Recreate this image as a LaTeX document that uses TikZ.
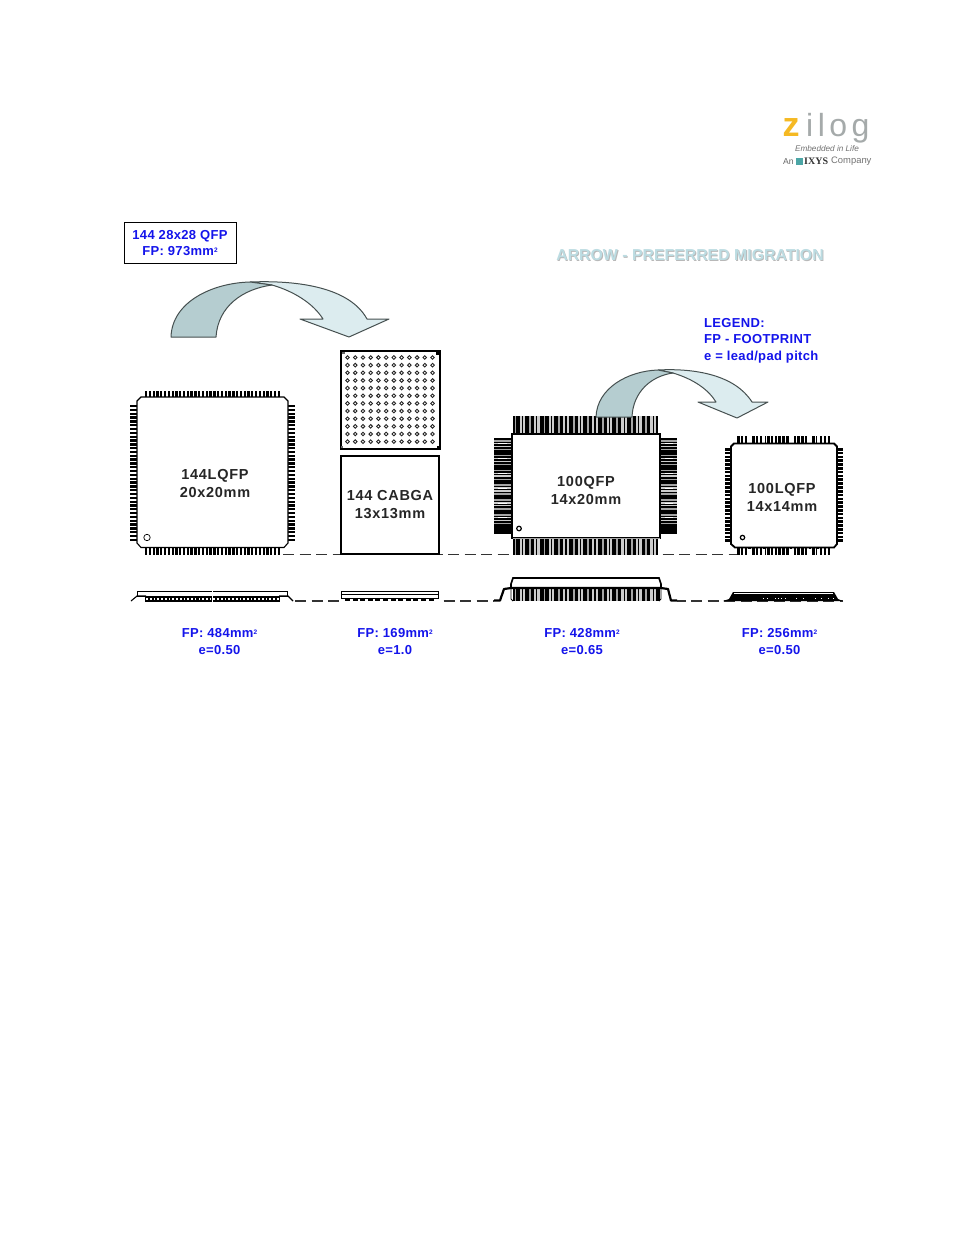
\documentclass[tikz,border=0pt]{standalone}
\usepackage{fontspec}
\setmainfont{Liberation Sans}
\newfontfamily\serifx{Liberation Serif}
\newfontfamily\blufont[LetterSpace=2.6]{Liberation Sans}
\newfontfamily\chipfont[LetterSpace=5]{Liberation Sans}
\newfontfamily\logofont[LetterSpace=14]{Liberation Sans}
\definecolor{lblue}{RGB}{20,20,235}
\definecolor{arrowdark}{RGB}{181,205,208}
\definecolor{arrowlight}{RGB}{220,236,239}
\definecolor{arrowline}{RGB}{70,80,80}
\definecolor{headcol}{RGB}{188,220,226}
\definecolor{logogray}{RGB}{165,170,170}
\definecolor{logoz}{RGB}{245,185,35}
\definecolor{leadgray}{RGB}{165,165,165}
\definecolor{leadlight}{RGB}{205,205,205}
\newcommand{\supp}[1]{\raisebox{3.5pt}{\fontsize{6.5}{7}\selectfont #1}}
\tikzset{
  bluetxt/.style={text=lblue,font=\blufont\bfseries\fontsize{13}{16.5}\selectfont,align=center,inner sep=0pt},
  chiptxt/.style={text=black!85,font=\chipfont\bfseries\fontsize{14.5}{18}\selectfont,align=center,inner sep=0pt},
  bodyline/.style={draw=black,fill=white,line width=1.1pt},
  migarrow/.style={draw=arrowline,line width=1pt,line join=round},
  guide/.style={draw=black!80,line width=1.1pt,dash pattern=on 11pt off 5.5pt},
}
\newcommand{\leadsH}[6]{% x0, x1, y0, y1, count, width
  \foreach \i in {1,...,#5}{
    \pgfmathsetmacro{\xx}{#1+(#2-#1-#6)*(\i-1)/(#5-1)}
    \fill[black] (\xx,#3) rectangle (\xx+#6,#4);
  }}
\newcommand{\leadsV}[6]{% x0, x1, y0, y1, count, width
  \foreach \i in {1,...,#5}{
    \pgfmathsetmacro{\yy}{#3+(#4-#3-#6)*(\i-1)/(#5-1)}
    \fill[black] (#1,\yy) rectangle (#2,\yy+#6);
  }}
\newcommand{\qfpH}[4]{% x0,x1,y0,y1 : banded lead block, horizontal run
  \fill[black] (#1,#3) rectangle (#2,#4);
  \foreach \i in {0,...,9}{
    \pgfmathsetmacro{\xx}{#1+1.5+\i*14.55}
    \fill[leadgray] (\xx,#3) rectangle (\xx+1.8,#4);
    \fill[leadlight] (\xx+5,#3) rectangle (\xx+7.2,#4);
    \fill[leadlight] (\xx+8.4,#3) rectangle (\xx+10.6,#4);
  }}
\newcommand{\qfpV}[4]{% x0,x1,y0,y1 : banded lead block, vertical run
  \fill[black] (#1,#3) rectangle (#2,#4);
  \foreach \i in {0,...,5}{
    \pgfmathsetmacro{\yy}{#3+2+\i*14.8}
    \fill[leadgray] (#1,\yy) rectangle (#2,\yy+1.6);
    \fill[leadlight] (#1,\yy+3) rectangle (#2,\yy+4.4);
    \fill[white] (#1+4,\yy+3.4) rectangle (#2-4,\yy+4.4);
    \fill[leadlight] (#1,\yy+5.8) rectangle (#2,\yy+7.2);
    \fill[leadgray] (#1,\yy+9) rectangle (#2,\yy+10.4);
  }}
\begin{document}
\begin{tikzpicture}[x=1pt,y=-1pt]
\useasboundingbox[fill=white] (0,0) rectangle (954,1235);

% logo
\node[inner sep=0pt,anchor=base,text=logoz,font=\bfseries\fontsize{34}{34}\selectfont] (logoZ) at (791,136) {z};
\node[inner sep=0pt,anchor=base west,text=logogray,font=\logofont\fontsize{32}{32}\selectfont] (logoR) at (806,136) {ilog};
\node[inner sep=0pt,text=black!55,font=\itshape\fontsize{8.2}{9}\selectfont] (logoT) at (827,148.5) {Embedded in Life};
\node[inner sep=0pt,text=black!60,font=\fontsize{8.6}{9}\selectfont,anchor=west] (logoAn) at (783,161.5) {An};
\node[inner sep=0pt,fill=teal!70,minimum size=7pt] (logoB) at (799.5,161) {};
\node[inner sep=0pt,text=black!80,font=\serifx\bfseries\fontsize{10}{10}\selectfont,anchor=west] (logoI) at (804,161.5) {IXYS};
\node[inner sep=0pt,text=black!55,font=\fontsize{9.4}{9}\selectfont,anchor=west] (logoC) at (831,161.5) {Company};

% top label box
\node[draw=black,line width=0.8pt,fill=white,minimum width=112pt,minimum height=41pt,inner sep=0pt] (topbox) at (180,242.8) {};
\node[bluetxt] (toptxt) at (180,243) {144 28x28 QFP\\FP: 973mm\supp{2}};

% heading and legend
\node[inner sep=0pt,text=black!28,font=\bfseries\fontsize{15.85}{18}\selectfont] (headS) at (690.9,256.3) {ARROW - PREFERRED MIGRATION};
\node[inner sep=0pt,text=headcol,font=\bfseries\fontsize{15.85}{18}\selectfont] (head) at (690,255.4) {ARROW - PREFERRED MIGRATION};
\node[bluetxt,align=left,anchor=north west] (legend) at (704,318) {LEGEND:\\FP - FOOTPRINT\\e = lead/pad pitch};

% dashed guides (behind the packages)
\coordinate (guideA) at (283,554.5);
\coordinate (guideB) at (737,554.5);
\coordinate (sideA) at (130,601);
\coordinate (sideD) at (843,601);
\draw[guide] (guideA) -- (guideB);
\draw[guide] (sideA) -- (sideD);

% migration arrow 1
\path[migarrow,fill=arrowlight] (250,282) .. controls (300,280) and (350,288) .. (367,319) -- (389,319) -- (349,337) -- (300,319) -- (323,319) .. controls (313,303) and (293,291) .. (272,285) -- cycle;
\path[migarrow,fill=arrowdark] (171,337) .. controls (172,302) and (212,283) .. (250,282) -- (272,285) .. controls (243,289) and (218,306) .. (216,337) -- cycle;

% 144LQFP
\leadsH{145}{280}{391}{398}{36}{2.3}
\leadsH{145}{280}{547}{555}{36}{2.3}
\leadsV{130}{138}{405}{541}{36}{2.3}
\leadsV{287}{295}{405}{541}{36}{2.3}
\draw[bodyline] (141,397) -- (284,397) -- (288,401) -- (288,543) -- (284,547.5) -- (141,547.5) -- (137,543) -- (137,401) -- cycle;
\draw[black,line width=0.7pt] (147,537.5) circle (3.2);
\node[chiptxt] (lqfpA) at (215,483.5) {144LQFP\\20x20mm};

% BGA
\draw[draw=black,fill=white,line width=1.6pt] (341,351) rectangle (440,449);
\fill[black!60] (342,352) rectangle (345,354);
\fill[black] (436,351) rectangle (440,355);
\fill[black!60] (341,446) rectangle (343,448);
\fill[black] (437,446) rectangle (440,449);
\foreach \r in {0,...,11}{\foreach \c in {0,...,11}{
  \draw[black!85,line width=0.9pt] (347.5+\c*7.73,357.5+\r*7.65) circle (1.8);
}}
\node[draw=black,line width=1.6pt,fill=white,minimum width=98pt,minimum height=98pt,inner sep=0pt,chiptxt] (cabga) at (390,505) {144 CABGA\\13x13mm};

% 100QFP
\qfpH{513}{658}{416}{433}
\qfpH{513}{658}{538}{555}
\qfpV{494}{511}{438}{534}
\qfpV{661}{677}{438}{534}
\node[draw=black,line width=2pt,fill=white,minimum width=148pt,minimum height=104pt,inner sep=0pt] (qfp) at (586,485.5) {};
\node[chiptxt] (qfpt) at (586,490.5) {100QFP\\14x20mm};
\draw[leadgray,line width=1.2pt] (513,538.5) -- (660,538.5);
\draw[black,line width=1.2pt] (519,528.5) circle (2.3);

% migration arrow 2
\path[migarrow,fill=arrowlight] (658,370) .. controls (695,368) and (735,375) .. (752,402) -- (768,402) -- (737,418) -- (698,402) -- (716,402) .. controls (708,389) and (693,379) .. (673,373) -- cycle;
\path[migarrow,fill=arrowdark] (596,417) .. controls (597,388) and (628,371) .. (658,370) -- (673,373) .. controls (651,376) and (633,392) .. (632,417) -- cycle;

% 100LQFP
\leadsH{737}{830}{436}{444}{25}{2.5}
\leadsH{737}{830}{546}{555}{25}{2.5}
\foreach \xx in {748,762,789,809,817}{
  \fill[white] (\xx,436) rectangle (\xx+3,442.5);
  \fill[white] (\xx,548.5) rectangle (\xx+3,555);
}
\leadsV{725}{732}{448}{542}{25}{2.6}
\leadsV{836}{843}{448}{542}{25}{2.6}
\draw[draw=black,fill=white,line width=1.8pt] (734,443.5) -- (834,443.5) -- (837,446.5) -- (837,544) -- (834,547.5) -- (735,547.5) -- (731,544) -- (731,446.5) -- cycle;
\draw[black,line width=1.2pt] (742.5,537.5) circle (2.2);
\node[chiptxt] (lqfpB) at (782,497) {100LQFP\\14x14mm};

% side view 144LQFP
\fill[white] (130,590) rectangle (295,602);
\fill[black] (145,596) rectangle (280,601.5);
\foreach \i in {0,...,35}{\fill[white] (146.3+\i*3.73,598) rectangle (148+\i*3.73,600);}
\draw[black,line width=0.9pt,fill=white] (137,591) rectangle (287,596);
\fill[white] (212,590) rectangle (213,602);
\draw[black,line width=1.1pt] (131,601) -- (137,596) -- (146,596);
\draw[black,line width=1.1pt] (279,596) -- (288,596) -- (293,601);

% side view CABGA
\fill[white] (341,590) rectangle (440,602);
\draw[black,line width=1pt,fill=white] (341,591) rectangle (438,598);
\draw[black,line width=0.6pt] (341,594) -- (438,594);
\foreach \i in {0,...,11}{\fill[black] (345+\i*7.6,598) rectangle (350+\i*7.6,600.5);}

% side view 100QFP
\fill[white] (494,577) rectangle (677,602);
\draw[black,line width=0.8pt] (511,589) -- (511,599) -- (513,601);
\draw[black,line width=0.8pt] (661,589) -- (661,599) -- (659,601);
\qfpH{513}{660}{589}{601}
\draw[black,line width=1.6pt] (511,588) -- (511,584) -- (513,578) -- (659,578) -- (661,584) -- (661,588);
\draw[black,line width=2.2pt,line join=round] (494,600.5) -- (500,600.5) -- (504,589) -- (511,588) -- (661,588) -- (668,589) -- (671,600.5) -- (677,600.5);

% side view 100LQFP
\fill[black] (723,601) -- (729,599) -- (733,592) -- (834,592) -- (838,599) -- (843,601) -- cycle;
\fill[white] (734,593.3) rectangle (833,594.3);
\foreach \xx in {763,767,775,778,781,785,796,803,815,821,828,833}{\fill[white] (\xx,597.5) rectangle (\xx+1.4,599);}

% captions
\node[bluetxt] (capA) at (219.5,641.4) {FP: 484mm\supp{2}\\e=0.50};
\node[bluetxt] (capB) at (395,641.4) {FP: 169mm\supp{2}\\e=1.0};
\node[bluetxt] (capC) at (582,641.4) {FP: 428mm\supp{2}\\e=0.65};
\node[bluetxt] (capD) at (779.5,641.4) {FP: 256mm\supp{2}\\e=0.50};
\end{tikzpicture}
\end{document}
